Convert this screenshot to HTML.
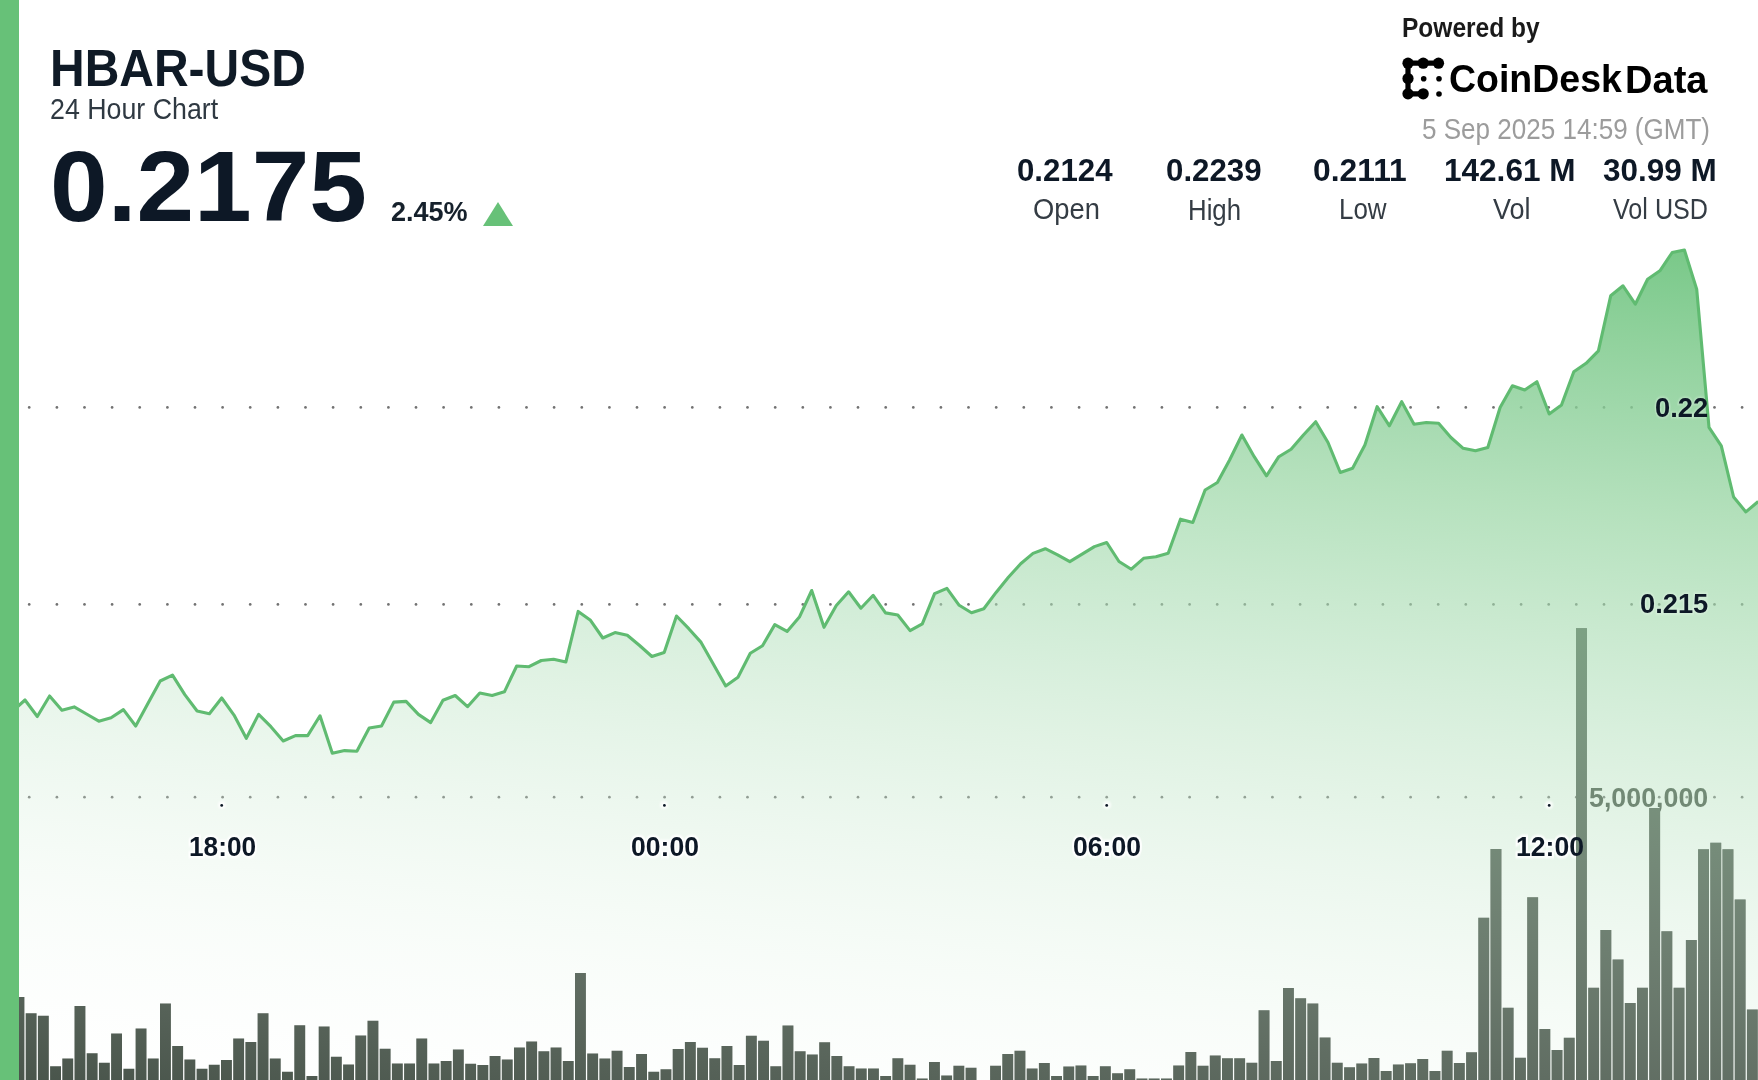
<!DOCTYPE html>
<html><head><meta charset="utf-8"><style>
html,body{margin:0;padding:0;background:#fff;}
body{width:1758px;height:1080px;overflow:hidden;position:relative;font-family:"Liberation Sans",sans-serif;}
.tx{position:absolute;white-space:pre;line-height:1;transform-origin:0 0;}
.halo{color:transparent;-webkit-text-stroke:4.5px rgba(255,255,255,.9);filter:blur(.8px);}
.halo2{color:transparent;-webkit-text-stroke:3px rgba(255,255,255,.25);filter:blur(.8px);}
.tickhalo{position:absolute;width:8px;height:8px;border-radius:4px;background:rgba(255,255,255,.8);filter:blur(1px);}
svg{position:absolute;left:0;top:0;overflow:visible;}
#wrap{position:absolute;left:-10px;top:-10px;width:1778px;height:1100px;background:#fff;filter:blur(0.55px);overflow:hidden;}
#c{position:absolute;left:10px;top:10px;width:1758px;height:1080px;}
#lb{position:absolute;left:-10px;top:-10px;width:28.6px;height:1100px;background:#67c178;}
#tri{position:absolute;left:482.6px;top:201.9px;width:0;height:0;border-left:15.2px solid transparent;border-right:15.2px solid transparent;border-bottom:24.5px solid #67c178;}
</style></head><body>
<div id="wrap"><div id="c">
<svg width="1758" height="1080" viewBox="0 0 1758 1080">
<g fill="#727272"><circle cx="1.6" cy="407.4" r="1.35"/><circle cx="29.2" cy="407.4" r="1.35"/><circle cx="56.9" cy="407.4" r="1.35"/><circle cx="84.5" cy="407.4" r="1.35"/><circle cx="112.1" cy="407.4" r="1.35"/><circle cx="139.7" cy="407.4" r="1.35"/><circle cx="167.4" cy="407.4" r="1.35"/><circle cx="195.0" cy="407.4" r="1.35"/><circle cx="222.6" cy="407.4" r="1.35"/><circle cx="250.2" cy="407.4" r="1.35"/><circle cx="277.9" cy="407.4" r="1.35"/><circle cx="305.5" cy="407.4" r="1.35"/><circle cx="333.1" cy="407.4" r="1.35"/><circle cx="360.8" cy="407.4" r="1.35"/><circle cx="388.4" cy="407.4" r="1.35"/><circle cx="416.0" cy="407.4" r="1.35"/><circle cx="443.6" cy="407.4" r="1.35"/><circle cx="471.3" cy="407.4" r="1.35"/><circle cx="498.9" cy="407.4" r="1.35"/><circle cx="526.5" cy="407.4" r="1.35"/><circle cx="554.1" cy="407.4" r="1.35"/><circle cx="581.8" cy="407.4" r="1.35"/><circle cx="609.4" cy="407.4" r="1.35"/><circle cx="637.0" cy="407.4" r="1.35"/><circle cx="664.6" cy="407.4" r="1.35"/><circle cx="692.3" cy="407.4" r="1.35"/><circle cx="719.9" cy="407.4" r="1.35"/><circle cx="747.5" cy="407.4" r="1.35"/><circle cx="775.2" cy="407.4" r="1.35"/><circle cx="802.8" cy="407.4" r="1.35"/><circle cx="830.4" cy="407.4" r="1.35"/><circle cx="858.0" cy="407.4" r="1.35"/><circle cx="885.7" cy="407.4" r="1.35"/><circle cx="913.3" cy="407.4" r="1.35"/><circle cx="940.9" cy="407.4" r="1.35"/><circle cx="968.5" cy="407.4" r="1.35"/><circle cx="996.2" cy="407.4" r="1.35"/><circle cx="1023.8" cy="407.4" r="1.35"/><circle cx="1051.4" cy="407.4" r="1.35"/><circle cx="1079.1" cy="407.4" r="1.35"/><circle cx="1106.7" cy="407.4" r="1.35"/><circle cx="1134.3" cy="407.4" r="1.35"/><circle cx="1161.9" cy="407.4" r="1.35"/><circle cx="1189.6" cy="407.4" r="1.35"/><circle cx="1217.2" cy="407.4" r="1.35"/><circle cx="1244.8" cy="407.4" r="1.35"/><circle cx="1272.4" cy="407.4" r="1.35"/><circle cx="1300.1" cy="407.4" r="1.35"/><circle cx="1327.7" cy="407.4" r="1.35"/><circle cx="1355.3" cy="407.4" r="1.35"/><circle cx="1382.9" cy="407.4" r="1.35"/><circle cx="1410.6" cy="407.4" r="1.35"/><circle cx="1438.2" cy="407.4" r="1.35"/><circle cx="1465.8" cy="407.4" r="1.35"/><circle cx="1493.5" cy="407.4" r="1.35"/><circle cx="1521.1" cy="407.4" r="1.35"/><circle cx="1548.7" cy="407.4" r="1.35"/><circle cx="1576.3" cy="407.4" r="1.35"/><circle cx="1604.0" cy="407.4" r="1.35"/><circle cx="1631.6" cy="407.4" r="1.35"/><circle cx="1659.2" cy="407.4" r="1.35"/><circle cx="1686.8" cy="407.4" r="1.35"/><circle cx="1714.5" cy="407.4" r="1.35"/><circle cx="1742.1" cy="407.4" r="1.35"/><circle cx="1.6" cy="604.4" r="1.35"/><circle cx="29.2" cy="604.4" r="1.35"/><circle cx="56.9" cy="604.4" r="1.35"/><circle cx="84.5" cy="604.4" r="1.35"/><circle cx="112.1" cy="604.4" r="1.35"/><circle cx="139.7" cy="604.4" r="1.35"/><circle cx="167.4" cy="604.4" r="1.35"/><circle cx="195.0" cy="604.4" r="1.35"/><circle cx="222.6" cy="604.4" r="1.35"/><circle cx="250.2" cy="604.4" r="1.35"/><circle cx="277.9" cy="604.4" r="1.35"/><circle cx="305.5" cy="604.4" r="1.35"/><circle cx="333.1" cy="604.4" r="1.35"/><circle cx="360.8" cy="604.4" r="1.35"/><circle cx="388.4" cy="604.4" r="1.35"/><circle cx="416.0" cy="604.4" r="1.35"/><circle cx="443.6" cy="604.4" r="1.35"/><circle cx="471.3" cy="604.4" r="1.35"/><circle cx="498.9" cy="604.4" r="1.35"/><circle cx="526.5" cy="604.4" r="1.35"/><circle cx="554.1" cy="604.4" r="1.35"/><circle cx="581.8" cy="604.4" r="1.35"/><circle cx="609.4" cy="604.4" r="1.35"/><circle cx="637.0" cy="604.4" r="1.35"/><circle cx="664.6" cy="604.4" r="1.35"/><circle cx="692.3" cy="604.4" r="1.35"/><circle cx="719.9" cy="604.4" r="1.35"/><circle cx="747.5" cy="604.4" r="1.35"/><circle cx="775.2" cy="604.4" r="1.35"/><circle cx="802.8" cy="604.4" r="1.35"/><circle cx="830.4" cy="604.4" r="1.35"/><circle cx="858.0" cy="604.4" r="1.35"/><circle cx="885.7" cy="604.4" r="1.35"/><circle cx="913.3" cy="604.4" r="1.35"/><circle cx="940.9" cy="604.4" r="1.35"/><circle cx="968.5" cy="604.4" r="1.35"/><circle cx="996.2" cy="604.4" r="1.35"/><circle cx="1023.8" cy="604.4" r="1.35"/><circle cx="1051.4" cy="604.4" r="1.35"/><circle cx="1079.1" cy="604.4" r="1.35"/><circle cx="1106.7" cy="604.4" r="1.35"/><circle cx="1134.3" cy="604.4" r="1.35"/><circle cx="1161.9" cy="604.4" r="1.35"/><circle cx="1189.6" cy="604.4" r="1.35"/><circle cx="1217.2" cy="604.4" r="1.35"/><circle cx="1244.8" cy="604.4" r="1.35"/><circle cx="1272.4" cy="604.4" r="1.35"/><circle cx="1300.1" cy="604.4" r="1.35"/><circle cx="1327.7" cy="604.4" r="1.35"/><circle cx="1355.3" cy="604.4" r="1.35"/><circle cx="1382.9" cy="604.4" r="1.35"/><circle cx="1410.6" cy="604.4" r="1.35"/><circle cx="1438.2" cy="604.4" r="1.35"/><circle cx="1465.8" cy="604.4" r="1.35"/><circle cx="1493.5" cy="604.4" r="1.35"/><circle cx="1521.1" cy="604.4" r="1.35"/><circle cx="1548.7" cy="604.4" r="1.35"/><circle cx="1576.3" cy="604.4" r="1.35"/><circle cx="1604.0" cy="604.4" r="1.35"/><circle cx="1631.6" cy="604.4" r="1.35"/><circle cx="1659.2" cy="604.4" r="1.35"/><circle cx="1686.8" cy="604.4" r="1.35"/><circle cx="1714.5" cy="604.4" r="1.35"/><circle cx="1742.1" cy="604.4" r="1.35"/><circle cx="1.6" cy="797.2" r="1.35"/><circle cx="29.2" cy="797.2" r="1.35"/><circle cx="56.9" cy="797.2" r="1.35"/><circle cx="84.5" cy="797.2" r="1.35"/><circle cx="112.1" cy="797.2" r="1.35"/><circle cx="139.7" cy="797.2" r="1.35"/><circle cx="167.4" cy="797.2" r="1.35"/><circle cx="195.0" cy="797.2" r="1.35"/><circle cx="222.6" cy="797.2" r="1.35"/><circle cx="250.2" cy="797.2" r="1.35"/><circle cx="277.9" cy="797.2" r="1.35"/><circle cx="305.5" cy="797.2" r="1.35"/><circle cx="333.1" cy="797.2" r="1.35"/><circle cx="360.8" cy="797.2" r="1.35"/><circle cx="388.4" cy="797.2" r="1.35"/><circle cx="416.0" cy="797.2" r="1.35"/><circle cx="443.6" cy="797.2" r="1.35"/><circle cx="471.3" cy="797.2" r="1.35"/><circle cx="498.9" cy="797.2" r="1.35"/><circle cx="526.5" cy="797.2" r="1.35"/><circle cx="554.1" cy="797.2" r="1.35"/><circle cx="581.8" cy="797.2" r="1.35"/><circle cx="609.4" cy="797.2" r="1.35"/><circle cx="637.0" cy="797.2" r="1.35"/><circle cx="664.6" cy="797.2" r="1.35"/><circle cx="692.3" cy="797.2" r="1.35"/><circle cx="719.9" cy="797.2" r="1.35"/><circle cx="747.5" cy="797.2" r="1.35"/><circle cx="775.2" cy="797.2" r="1.35"/><circle cx="802.8" cy="797.2" r="1.35"/><circle cx="830.4" cy="797.2" r="1.35"/><circle cx="858.0" cy="797.2" r="1.35"/><circle cx="885.7" cy="797.2" r="1.35"/><circle cx="913.3" cy="797.2" r="1.35"/><circle cx="940.9" cy="797.2" r="1.35"/><circle cx="968.5" cy="797.2" r="1.35"/><circle cx="996.2" cy="797.2" r="1.35"/><circle cx="1023.8" cy="797.2" r="1.35"/><circle cx="1051.4" cy="797.2" r="1.35"/><circle cx="1079.1" cy="797.2" r="1.35"/><circle cx="1106.7" cy="797.2" r="1.35"/><circle cx="1134.3" cy="797.2" r="1.35"/><circle cx="1161.9" cy="797.2" r="1.35"/><circle cx="1189.6" cy="797.2" r="1.35"/><circle cx="1217.2" cy="797.2" r="1.35"/><circle cx="1244.8" cy="797.2" r="1.35"/><circle cx="1272.4" cy="797.2" r="1.35"/><circle cx="1300.1" cy="797.2" r="1.35"/><circle cx="1327.7" cy="797.2" r="1.35"/><circle cx="1355.3" cy="797.2" r="1.35"/><circle cx="1382.9" cy="797.2" r="1.35"/><circle cx="1410.6" cy="797.2" r="1.35"/><circle cx="1438.2" cy="797.2" r="1.35"/><circle cx="1465.8" cy="797.2" r="1.35"/><circle cx="1493.5" cy="797.2" r="1.35"/><circle cx="1521.1" cy="797.2" r="1.35"/><circle cx="1548.7" cy="797.2" r="1.35"/><circle cx="1576.3" cy="797.2" r="1.35"/><circle cx="1604.0" cy="797.2" r="1.35"/><circle cx="1631.6" cy="797.2" r="1.35"/><circle cx="1659.2" cy="797.2" r="1.35"/><circle cx="1686.8" cy="797.2" r="1.35"/><circle cx="1714.5" cy="797.2" r="1.35"/><circle cx="1742.1" cy="797.2" r="1.35"/></g>
</svg>
<div class="tx" style="left:1588.80px;top:782.73px;font-size:28.26px;font-weight:bold;transform:scaleX(0.9484);color:#364036">5,000,000</div>
<svg width="1758" height="1080" viewBox="0 0 1758 1080">
<defs><linearGradient id="ag" gradientUnits="userSpaceOnUse" x1="1620" y1="172" x2="1499.2" y2="1291.5"><stop offset="0.000" stop-color="#67c178" stop-opacity="1.000"/><stop offset="0.050" stop-color="#6fc47f" stop-opacity="0.950"/><stop offset="0.100" stop-color="#76c786" stop-opacity="0.900"/><stop offset="0.150" stop-color="#7eca8c" stop-opacity="0.850"/><stop offset="0.200" stop-color="#85cd93" stop-opacity="0.800"/><stop offset="0.250" stop-color="#8dd09a" stop-opacity="0.750"/><stop offset="0.300" stop-color="#95d4a0" stop-opacity="0.700"/><stop offset="0.350" stop-color="#9cd7a7" stop-opacity="0.650"/><stop offset="0.400" stop-color="#a4daae" stop-opacity="0.600"/><stop offset="0.450" stop-color="#abddb5" stop-opacity="0.550"/><stop offset="0.500" stop-color="#b3e0bc" stop-opacity="0.500"/><stop offset="0.550" stop-color="#bbe3c2" stop-opacity="0.450"/><stop offset="0.600" stop-color="#c2e6c9" stop-opacity="0.400"/><stop offset="0.650" stop-color="#cae9d0" stop-opacity="0.350"/><stop offset="0.700" stop-color="#d1ecd6" stop-opacity="0.300"/><stop offset="0.750" stop-color="#d9f0dd" stop-opacity="0.250"/><stop offset="0.800" stop-color="#e1f3e4" stop-opacity="0.200"/><stop offset="0.850" stop-color="#e8f6eb" stop-opacity="0.150"/><stop offset="0.900" stop-color="#f0f9f2" stop-opacity="0.100"/><stop offset="0.950" stop-color="#f7fcf8" stop-opacity="0.050"/><stop offset="1.000" stop-color="#ffffff" stop-opacity="0.000"/></linearGradient><clipPath id="bc"><path d="M13.5,996.9h10.9V1090h-10.9ZM25.7,1013.2h10.9V1090h-10.9ZM37.9,1015.7h10.9V1090h-10.9ZM50.1,1066.2h10.9V1090h-10.9ZM62.3,1058.6h10.9V1090h-10.9ZM74.5,1006.1h10.9V1090h-10.9ZM86.7,1053.2h10.9V1090h-10.9ZM98.9,1062.7h10.9V1090h-10.9ZM111.1,1033.4h10.9V1090h-10.9ZM123.4,1068.8h10.9V1090h-10.9ZM135.6,1028.5h10.9V1090h-10.9ZM147.8,1058.6h10.9V1090h-10.9ZM160.0,1003.4h10.9V1090h-10.9ZM172.2,1046.0h10.9V1090h-10.9ZM184.4,1059.4h10.9V1090h-10.9ZM196.6,1068.8h10.9V1090h-10.9ZM208.8,1064.8h10.9V1090h-10.9ZM221.0,1060.1h10.9V1090h-10.9ZM233.2,1038.5h10.9V1090h-10.9ZM245.4,1041.9h10.9V1090h-10.9ZM257.6,1013.2h10.9V1090h-10.9ZM269.8,1058.6h10.9V1090h-10.9ZM282.0,1071.7h10.9V1090h-10.9ZM294.3,1025.3h10.9V1090h-10.9ZM306.5,1076.0h10.9V1090h-10.9ZM318.7,1026.6h10.9V1090h-10.9ZM330.9,1056.7h10.9V1090h-10.9ZM343.1,1064.4h10.9V1090h-10.9ZM355.3,1035.4h10.9V1090h-10.9ZM367.5,1020.8h10.9V1090h-10.9ZM379.7,1048.7h10.9V1090h-10.9ZM391.9,1063.5h10.9V1090h-10.9ZM404.1,1063.5h10.9V1090h-10.9ZM416.3,1038.5h10.9V1090h-10.9ZM428.5,1063.5h10.9V1090h-10.9ZM440.7,1061.0h10.9V1090h-10.9ZM452.9,1049.4h10.9V1090h-10.9ZM465.2,1063.8h10.9V1090h-10.9ZM477.4,1065.1h10.9V1090h-10.9ZM489.6,1056.0h10.9V1090h-10.9ZM501.8,1059.4h10.9V1090h-10.9ZM514.0,1047.4h10.9V1090h-10.9ZM526.2,1041.5h10.9V1090h-10.9ZM538.4,1051.2h10.9V1090h-10.9ZM550.6,1047.4h10.9V1090h-10.9ZM562.8,1061.0h10.9V1090h-10.9ZM575.0,973.0h10.9V1090h-10.9ZM587.2,1053.5h10.9V1090h-10.9ZM599.4,1058.6h10.9V1090h-10.9ZM611.6,1050.8h10.9V1090h-10.9ZM623.8,1066.9h10.9V1090h-10.9ZM636.1,1053.9h10.9V1090h-10.9ZM648.3,1071.7h10.9V1090h-10.9ZM660.5,1069.2h10.9V1090h-10.9ZM672.7,1049.0h10.9V1090h-10.9ZM684.9,1041.9h10.9V1090h-10.9ZM697.1,1047.8h10.9V1090h-10.9ZM709.3,1058.3h10.9V1090h-10.9ZM721.5,1046.0h10.9V1090h-10.9ZM733.7,1065.1h10.9V1090h-10.9ZM745.9,1035.8h10.9V1090h-10.9ZM758.1,1040.8h10.9V1090h-10.9ZM770.3,1066.2h10.9V1090h-10.9ZM782.5,1025.5h10.9V1090h-10.9ZM794.7,1051.2h10.9V1090h-10.9ZM806.9,1054.5h10.9V1090h-10.9ZM819.2,1042.2h10.9V1090h-10.9ZM831.4,1056.0h10.9V1090h-10.9ZM843.6,1066.2h10.9V1090h-10.9ZM855.8,1068.5h10.9V1090h-10.9ZM868.0,1068.5h10.9V1090h-10.9ZM880.2,1076.0h10.9V1090h-10.9ZM892.4,1058.3h10.9V1090h-10.9ZM904.6,1064.8h10.9V1090h-10.9ZM916.8,1078.5h10.9V1090h-10.9ZM929.0,1062.1h10.9V1090h-10.9ZM941.2,1075.4h10.9V1090h-10.9ZM953.4,1065.8h10.9V1090h-10.9ZM965.6,1067.8h10.9V1090h-10.9ZM990.1,1065.8h10.9V1090h-10.9ZM1002.3,1053.9h10.9V1090h-10.9ZM1014.5,1050.8h10.9V1090h-10.9ZM1026.7,1068.5h10.9V1090h-10.9ZM1038.9,1063.1h10.9V1090h-10.9ZM1051.1,1076.0h10.9V1090h-10.9ZM1063.3,1066.5h10.9V1090h-10.9ZM1075.5,1065.4h10.9V1090h-10.9ZM1087.7,1076.0h10.9V1090h-10.9ZM1099.9,1066.2h10.9V1090h-10.9ZM1112.1,1073.3h10.9V1090h-10.9ZM1124.3,1069.2h10.9V1090h-10.9ZM1136.5,1078.5h10.9V1090h-10.9ZM1148.7,1078.5h10.9V1090h-10.9ZM1161.0,1078.5h10.9V1090h-10.9ZM1173.2,1065.4h10.9V1090h-10.9ZM1185.4,1052.1h10.9V1090h-10.9ZM1197.6,1065.8h10.9V1090h-10.9ZM1209.8,1055.6h10.9V1090h-10.9ZM1222.0,1058.3h10.9V1090h-10.9ZM1234.2,1058.3h10.9V1090h-10.9ZM1246.4,1062.7h10.9V1090h-10.9ZM1258.6,1010.2h10.9V1090h-10.9ZM1270.8,1061.0h10.9V1090h-10.9ZM1283.0,988.0h10.9V1090h-10.9ZM1295.2,998.2h10.9V1090h-10.9ZM1307.4,1003.4h10.9V1090h-10.9ZM1319.6,1037.5h10.9V1090h-10.9ZM1331.8,1062.7h10.9V1090h-10.9ZM1344.1,1067.2h10.9V1090h-10.9ZM1356.3,1063.5h10.9V1090h-10.9ZM1368.5,1058.0h10.9V1090h-10.9ZM1380.7,1071.0h10.9V1090h-10.9ZM1392.9,1064.4h10.9V1090h-10.9ZM1405.1,1063.3h10.9V1090h-10.9ZM1417.3,1058.9h10.9V1090h-10.9ZM1429.5,1071.1h10.9V1090h-10.9ZM1441.7,1050.7h10.9V1090h-10.9ZM1453.9,1062.9h10.9V1090h-10.9ZM1466.1,1052.2h10.9V1090h-10.9ZM1478.3,917.8h10.9V1090h-10.9ZM1490.5,848.9h10.9V1090h-10.9ZM1502.7,1007.8h10.9V1090h-10.9ZM1515.0,1057.8h10.9V1090h-10.9ZM1527.2,897.3h10.9V1090h-10.9ZM1539.4,1028.9h10.9V1090h-10.9ZM1551.6,1050.0h10.9V1090h-10.9ZM1563.8,1037.8h10.9V1090h-10.9ZM1576.0,628.3h10.9V1090h-10.9ZM1588.2,987.7h10.9V1090h-10.9ZM1600.4,929.9h10.9V1090h-10.9ZM1612.6,959.4h10.9V1090h-10.9ZM1624.8,1003.0h10.9V1090h-10.9ZM1637.0,987.7h10.9V1090h-10.9ZM1649.2,808.0h10.9V1090h-10.9ZM1661.4,931.2h10.9V1090h-10.9ZM1673.6,987.7h10.9V1090h-10.9ZM1685.9,939.9h10.9V1090h-10.9ZM1698.1,849.3h10.9V1090h-10.9ZM1710.3,842.8h10.9V1090h-10.9ZM1722.5,849.3h10.9V1090h-10.9ZM1734.7,899.4h10.9V1090h-10.9ZM1746.9,1009.5h10.9V1090h-10.9Z"/></clipPath></defs>
<path d="M12.7,711.0 L25.0,700.0 L37.3,716.5 L49.6,696.0 L61.9,710.3 L74.2,706.9 L86.5,714.0 L98.8,721.2 L111.1,717.8 L123.4,709.6 L135.7,726.0 L147.9,703.5 L160.2,681.0 L172.5,675.2 L184.8,694.6 L197.1,711.0 L209.4,713.7 L221.7,698.0 L234.0,715.1 L246.3,738.3 L258.6,714.4 L270.9,726.7 L283.2,741.0 L295.5,735.6 L307.7,735.6 L320.0,715.8 L332.3,753.3 L344.6,750.6 L356.9,751.3 L369.2,728.0 L381.5,726.0 L393.8,702.1 L406.1,701.4 L418.4,714.4 L430.7,722.6 L443.0,700.3 L455.2,695.5 L467.5,706.7 L479.8,693.0 L492.1,695.5 L504.4,691.8 L516.7,666.0 L529.0,666.7 L541.3,660.5 L553.6,659.2 L565.9,661.9 L578.2,611.4 L590.5,620.3 L602.8,638.0 L615.0,632.6 L627.3,635.3 L639.6,645.5 L651.9,656.5 L664.2,652.5 L676.5,616.0 L688.8,628.7 L701.1,642.4 L713.4,664.2 L725.7,686.0 L738.0,677.2 L750.3,653.3 L762.5,645.8 L774.8,624.6 L787.1,631.4 L799.4,617.1 L811.7,590.5 L824.0,627.3 L836.3,605.5 L848.6,591.8 L860.9,608.2 L873.2,595.3 L885.5,612.9 L897.8,615.0 L910.1,630.6 L922.3,623.8 L934.6,593.7 L946.9,588.3 L959.2,605.3 L971.5,612.8 L983.8,608.7 L996.1,592.4 L1008.4,577.3 L1020.7,563.7 L1033.0,553.4 L1045.3,548.7 L1057.6,554.8 L1069.8,561.6 L1082.1,554.1 L1094.4,546.6 L1106.7,542.5 L1119.0,561.5 L1131.3,569.2 L1143.6,558.3 L1155.9,556.7 L1168.2,553.3 L1180.5,519.2 L1192.8,522.5 L1205.1,490.0 L1217.4,482.5 L1229.6,460.0 L1241.9,435.0 L1254.2,456.7 L1266.5,475.8 L1278.8,456.7 L1291.1,449.2 L1303.4,435.0 L1315.7,421.7 L1328.0,442.5 L1340.3,472.5 L1352.6,468.3 L1364.9,445.0 L1377.1,406.7 L1389.4,425.8 L1401.7,401.7 L1414.0,424.2 L1426.3,422.5 L1438.6,423.3 L1450.9,437.5 L1463.2,448.3 L1475.5,450.8 L1487.8,447.5 L1500.1,407.5 L1512.4,385.8 L1524.7,390.0 L1536.9,381.7 L1549.2,414.0 L1561.5,405.0 L1573.8,371.7 L1586.1,363.3 L1598.4,350.8 L1610.7,295.8 L1623.0,285.8 L1635.3,304.2 L1647.6,279.2 L1659.9,270.8 L1672.2,252.5 L1684.4,250.0 L1696.7,289.2 L1709.0,427.4 L1721.3,445.9 L1733.6,497.0 L1745.9,511.9 L1758.2,501.5 L1758.2,1090 L12.7,1090 Z" fill="url(#ag)"/>
</svg>
<div class="tx halo2" style="left:1654.56px;top:393.73px;font-size:27.46px;font-weight:bold;transform:scaleX(0.9950)">0.22</div><div class="tx halo2" style="left:1640.01px;top:588.93px;font-size:28.45px;font-weight:bold;transform:scaleX(0.9594)">0.215</div><div class="tx halo" style="left:189.32px;top:833.22px;font-size:27.89px;font-weight:bold;transform:scaleX(0.9417)">18:00</div><div class="tx halo" style="left:631.29px;top:832.07px;font-size:28.17px;font-weight:bold;transform:scaleX(0.9433)">00:00</div><div class="tx halo" style="left:1073.49px;top:832.07px;font-size:28.17px;font-weight:bold;transform:scaleX(0.9433)">06:00</div><div class="tx halo" style="left:1515.65px;top:832.07px;font-size:28.17px;font-weight:bold;transform:scaleX(0.9452)">12:00</div>
<div class="tickhalo" style="left:217.7px;top:801.4px"></div><div class="tickhalo" style="left:660.4px;top:801.4px"></div><div class="tickhalo" style="left:1102.7px;top:801.4px"></div><div class="tickhalo" style="left:1545.2px;top:801.4px"></div>
<svg width="1758" height="1080" viewBox="0 0 1758 1080">
<path d="M13.5,996.9h10.9V1090h-10.9ZM25.7,1013.2h10.9V1090h-10.9ZM37.9,1015.7h10.9V1090h-10.9ZM50.1,1066.2h10.9V1090h-10.9ZM62.3,1058.6h10.9V1090h-10.9ZM74.5,1006.1h10.9V1090h-10.9ZM86.7,1053.2h10.9V1090h-10.9ZM98.9,1062.7h10.9V1090h-10.9ZM111.1,1033.4h10.9V1090h-10.9ZM123.4,1068.8h10.9V1090h-10.9ZM135.6,1028.5h10.9V1090h-10.9ZM147.8,1058.6h10.9V1090h-10.9ZM160.0,1003.4h10.9V1090h-10.9ZM172.2,1046.0h10.9V1090h-10.9ZM184.4,1059.4h10.9V1090h-10.9ZM196.6,1068.8h10.9V1090h-10.9ZM208.8,1064.8h10.9V1090h-10.9ZM221.0,1060.1h10.9V1090h-10.9ZM233.2,1038.5h10.9V1090h-10.9ZM245.4,1041.9h10.9V1090h-10.9ZM257.6,1013.2h10.9V1090h-10.9ZM269.8,1058.6h10.9V1090h-10.9ZM282.0,1071.7h10.9V1090h-10.9ZM294.3,1025.3h10.9V1090h-10.9ZM306.5,1076.0h10.9V1090h-10.9ZM318.7,1026.6h10.9V1090h-10.9ZM330.9,1056.7h10.9V1090h-10.9ZM343.1,1064.4h10.9V1090h-10.9ZM355.3,1035.4h10.9V1090h-10.9ZM367.5,1020.8h10.9V1090h-10.9ZM379.7,1048.7h10.9V1090h-10.9ZM391.9,1063.5h10.9V1090h-10.9ZM404.1,1063.5h10.9V1090h-10.9ZM416.3,1038.5h10.9V1090h-10.9ZM428.5,1063.5h10.9V1090h-10.9ZM440.7,1061.0h10.9V1090h-10.9ZM452.9,1049.4h10.9V1090h-10.9ZM465.2,1063.8h10.9V1090h-10.9ZM477.4,1065.1h10.9V1090h-10.9ZM489.6,1056.0h10.9V1090h-10.9ZM501.8,1059.4h10.9V1090h-10.9ZM514.0,1047.4h10.9V1090h-10.9ZM526.2,1041.5h10.9V1090h-10.9ZM538.4,1051.2h10.9V1090h-10.9ZM550.6,1047.4h10.9V1090h-10.9ZM562.8,1061.0h10.9V1090h-10.9ZM575.0,973.0h10.9V1090h-10.9ZM587.2,1053.5h10.9V1090h-10.9ZM599.4,1058.6h10.9V1090h-10.9ZM611.6,1050.8h10.9V1090h-10.9ZM623.8,1066.9h10.9V1090h-10.9ZM636.1,1053.9h10.9V1090h-10.9ZM648.3,1071.7h10.9V1090h-10.9ZM660.5,1069.2h10.9V1090h-10.9ZM672.7,1049.0h10.9V1090h-10.9ZM684.9,1041.9h10.9V1090h-10.9ZM697.1,1047.8h10.9V1090h-10.9ZM709.3,1058.3h10.9V1090h-10.9ZM721.5,1046.0h10.9V1090h-10.9ZM733.7,1065.1h10.9V1090h-10.9ZM745.9,1035.8h10.9V1090h-10.9ZM758.1,1040.8h10.9V1090h-10.9ZM770.3,1066.2h10.9V1090h-10.9ZM782.5,1025.5h10.9V1090h-10.9ZM794.7,1051.2h10.9V1090h-10.9ZM806.9,1054.5h10.9V1090h-10.9ZM819.2,1042.2h10.9V1090h-10.9ZM831.4,1056.0h10.9V1090h-10.9ZM843.6,1066.2h10.9V1090h-10.9ZM855.8,1068.5h10.9V1090h-10.9ZM868.0,1068.5h10.9V1090h-10.9ZM880.2,1076.0h10.9V1090h-10.9ZM892.4,1058.3h10.9V1090h-10.9ZM904.6,1064.8h10.9V1090h-10.9ZM916.8,1078.5h10.9V1090h-10.9ZM929.0,1062.1h10.9V1090h-10.9ZM941.2,1075.4h10.9V1090h-10.9ZM953.4,1065.8h10.9V1090h-10.9ZM965.6,1067.8h10.9V1090h-10.9ZM990.1,1065.8h10.9V1090h-10.9ZM1002.3,1053.9h10.9V1090h-10.9ZM1014.5,1050.8h10.9V1090h-10.9ZM1026.7,1068.5h10.9V1090h-10.9ZM1038.9,1063.1h10.9V1090h-10.9ZM1051.1,1076.0h10.9V1090h-10.9ZM1063.3,1066.5h10.9V1090h-10.9ZM1075.5,1065.4h10.9V1090h-10.9ZM1087.7,1076.0h10.9V1090h-10.9ZM1099.9,1066.2h10.9V1090h-10.9ZM1112.1,1073.3h10.9V1090h-10.9ZM1124.3,1069.2h10.9V1090h-10.9ZM1136.5,1078.5h10.9V1090h-10.9ZM1148.7,1078.5h10.9V1090h-10.9ZM1161.0,1078.5h10.9V1090h-10.9ZM1173.2,1065.4h10.9V1090h-10.9ZM1185.4,1052.1h10.9V1090h-10.9ZM1197.6,1065.8h10.9V1090h-10.9ZM1209.8,1055.6h10.9V1090h-10.9ZM1222.0,1058.3h10.9V1090h-10.9ZM1234.2,1058.3h10.9V1090h-10.9ZM1246.4,1062.7h10.9V1090h-10.9ZM1258.6,1010.2h10.9V1090h-10.9ZM1270.8,1061.0h10.9V1090h-10.9ZM1283.0,988.0h10.9V1090h-10.9ZM1295.2,998.2h10.9V1090h-10.9ZM1307.4,1003.4h10.9V1090h-10.9ZM1319.6,1037.5h10.9V1090h-10.9ZM1331.8,1062.7h10.9V1090h-10.9ZM1344.1,1067.2h10.9V1090h-10.9ZM1356.3,1063.5h10.9V1090h-10.9ZM1368.5,1058.0h10.9V1090h-10.9ZM1380.7,1071.0h10.9V1090h-10.9ZM1392.9,1064.4h10.9V1090h-10.9ZM1405.1,1063.3h10.9V1090h-10.9ZM1417.3,1058.9h10.9V1090h-10.9ZM1429.5,1071.1h10.9V1090h-10.9ZM1441.7,1050.7h10.9V1090h-10.9ZM1453.9,1062.9h10.9V1090h-10.9ZM1466.1,1052.2h10.9V1090h-10.9ZM1478.3,917.8h10.9V1090h-10.9ZM1490.5,848.9h10.9V1090h-10.9ZM1502.7,1007.8h10.9V1090h-10.9ZM1515.0,1057.8h10.9V1090h-10.9ZM1527.2,897.3h10.9V1090h-10.9ZM1539.4,1028.9h10.9V1090h-10.9ZM1551.6,1050.0h10.9V1090h-10.9ZM1563.8,1037.8h10.9V1090h-10.9ZM1576.0,628.3h10.9V1090h-10.9ZM1588.2,987.7h10.9V1090h-10.9ZM1600.4,929.9h10.9V1090h-10.9ZM1612.6,959.4h10.9V1090h-10.9ZM1624.8,1003.0h10.9V1090h-10.9ZM1637.0,987.7h10.9V1090h-10.9ZM1649.2,808.0h10.9V1090h-10.9ZM1661.4,931.2h10.9V1090h-10.9ZM1673.6,987.7h10.9V1090h-10.9ZM1685.9,939.9h10.9V1090h-10.9ZM1698.1,849.3h10.9V1090h-10.9ZM1710.3,842.8h10.9V1090h-10.9ZM1722.5,849.3h10.9V1090h-10.9ZM1734.7,899.4h10.9V1090h-10.9ZM1746.9,1009.5h10.9V1090h-10.9Z" fill="#414d43"/>
<rect x="0" y="500" width="1758" height="590" fill="url(#ag)" clip-path="url(#bc)"/>
<path d="M12.7,711.0 L25.0,700.0 L37.3,716.5 L49.6,696.0 L61.9,710.3 L74.2,706.9 L86.5,714.0 L98.8,721.2 L111.1,717.8 L123.4,709.6 L135.7,726.0 L147.9,703.5 L160.2,681.0 L172.5,675.2 L184.8,694.6 L197.1,711.0 L209.4,713.7 L221.7,698.0 L234.0,715.1 L246.3,738.3 L258.6,714.4 L270.9,726.7 L283.2,741.0 L295.5,735.6 L307.7,735.6 L320.0,715.8 L332.3,753.3 L344.6,750.6 L356.9,751.3 L369.2,728.0 L381.5,726.0 L393.8,702.1 L406.1,701.4 L418.4,714.4 L430.7,722.6 L443.0,700.3 L455.2,695.5 L467.5,706.7 L479.8,693.0 L492.1,695.5 L504.4,691.8 L516.7,666.0 L529.0,666.7 L541.3,660.5 L553.6,659.2 L565.9,661.9 L578.2,611.4 L590.5,620.3 L602.8,638.0 L615.0,632.6 L627.3,635.3 L639.6,645.5 L651.9,656.5 L664.2,652.5 L676.5,616.0 L688.8,628.7 L701.1,642.4 L713.4,664.2 L725.7,686.0 L738.0,677.2 L750.3,653.3 L762.5,645.8 L774.8,624.6 L787.1,631.4 L799.4,617.1 L811.7,590.5 L824.0,627.3 L836.3,605.5 L848.6,591.8 L860.9,608.2 L873.2,595.3 L885.5,612.9 L897.8,615.0 L910.1,630.6 L922.3,623.8 L934.6,593.7 L946.9,588.3 L959.2,605.3 L971.5,612.8 L983.8,608.7 L996.1,592.4 L1008.4,577.3 L1020.7,563.7 L1033.0,553.4 L1045.3,548.7 L1057.6,554.8 L1069.8,561.6 L1082.1,554.1 L1094.4,546.6 L1106.7,542.5 L1119.0,561.5 L1131.3,569.2 L1143.6,558.3 L1155.9,556.7 L1168.2,553.3 L1180.5,519.2 L1192.8,522.5 L1205.1,490.0 L1217.4,482.5 L1229.6,460.0 L1241.9,435.0 L1254.2,456.7 L1266.5,475.8 L1278.8,456.7 L1291.1,449.2 L1303.4,435.0 L1315.7,421.7 L1328.0,442.5 L1340.3,472.5 L1352.6,468.3 L1364.9,445.0 L1377.1,406.7 L1389.4,425.8 L1401.7,401.7 L1414.0,424.2 L1426.3,422.5 L1438.6,423.3 L1450.9,437.5 L1463.2,448.3 L1475.5,450.8 L1487.8,447.5 L1500.1,407.5 L1512.4,385.8 L1524.7,390.0 L1536.9,381.7 L1549.2,414.0 L1561.5,405.0 L1573.8,371.7 L1586.1,363.3 L1598.4,350.8 L1610.7,295.8 L1623.0,285.8 L1635.3,304.2 L1647.6,279.2 L1659.9,270.8 L1672.2,252.5 L1684.4,250.0 L1696.7,289.2 L1709.0,427.4 L1721.3,445.9 L1733.6,497.0 L1745.9,511.9 L1758.2,501.5" fill="none" stroke="#60bb71" stroke-width="3.1" stroke-linejoin="round"/>
<g fill="#0d1826"><circle cx="221.7" cy="805.4" r="1.4"/><circle cx="664.4" cy="805.4" r="1.4"/><circle cx="1106.7" cy="805.4" r="1.4"/><circle cx="1549.2" cy="805.4" r="1.4"/></g>
</svg>
<div class="tx" style="left:50.34px;top:43.40px;font-size:51.88px;font-weight:bold;transform:scaleX(0.9245);color:#0f1a26">HBAR-USD</div><div class="tx" style="left:49.61px;top:93.75px;font-size:30.00px;font-weight:normal;transform:scaleX(0.8923);color:#2f3942">24 Hour Chart</div><div class="tx" style="left:49.60px;top:135.63px;font-size:100.14px;font-weight:bold;transform:scaleX(1.0350);color:#0d1826">0.2175</div><div class="tx" style="left:391.49px;top:197.73px;font-size:27.46px;font-weight:bold;transform:scaleX(0.9849);color:#16212c">2.45%</div><div class="tx" style="left:1401.93px;top:13.33px;font-size:28.26px;font-weight:bold;transform:scaleX(0.8680);color:#1a1a1a">Powered by</div><div class="tx" style="left:1448.85px;top:60.30px;font-size:38.78px;font-weight:bold;transform:scaleX(0.9665);color:#000000">CoinDesk</div><div class="tx" style="left:1625.29px;top:59.79px;font-size:39.43px;font-weight:bold;transform:scaleX(0.9650);color:#000000">Data</div><div class="tx" style="left:1422.16px;top:114.56px;font-size:28.99px;font-weight:normal;transform:scaleX(0.8984);color:#9c9c9c">5 Sep 2025 14:59 (GMT)</div><div class="tx" style="left:1017.25px;top:155.72px;font-size:30.85px;font-weight:bold;transform:scaleX(1.0125);color:#0d1826">0.2124</div><div class="tx" style="left:1165.70px;top:155.72px;font-size:30.85px;font-weight:bold;transform:scaleX(1.0129);color:#0d1826">0.2239</div><div class="tx" style="left:1313.13px;top:155.72px;font-size:30.85px;font-weight:bold;transform:scaleX(1.0311);color:#0d1826">0.2111</div><div class="tx" style="left:1444.31px;top:155.72px;font-size:30.85px;font-weight:bold;transform:scaleX(1.0224);color:#0d1826">142.61 M</div><div class="tx" style="left:1602.62px;top:155.24px;font-size:31.41px;font-weight:bold;transform:scaleX(1.0021);color:#0d1826">30.99 M</div><div class="tx" style="left:1032.88px;top:195.14px;font-size:28.84px;font-weight:normal;transform:scaleX(0.9479);color:#343c44">Open</div><div class="tx" style="left:1187.79px;top:196.29px;font-size:28.84px;font-weight:normal;transform:scaleX(0.8950);color:#343c44">High</div><div class="tx" style="left:1338.97px;top:195.09px;font-size:28.84px;font-weight:normal;transform:scaleX(0.9003);color:#343c44">Low</div><div class="tx" style="left:1492.83px;top:195.09px;font-size:28.84px;font-weight:normal;transform:scaleX(0.9370);color:#343c44">Vol</div><div class="tx" style="left:1612.70px;top:194.51px;font-size:28.70px;font-weight:normal;transform:scaleX(0.8759);color:#343c44">Vol USD</div><div class="tx" style="left:1654.56px;top:393.73px;font-size:27.46px;font-weight:bold;transform:scaleX(0.9950);color:#0d1826">0.22</div><div class="tx" style="left:1640.01px;top:588.93px;font-size:28.45px;font-weight:bold;transform:scaleX(0.9594);color:#0d1826">0.215</div><div class="tx" style="left:189.32px;top:833.22px;font-size:27.89px;font-weight:bold;transform:scaleX(0.9417);color:#0d1826">18:00</div><div class="tx" style="left:631.29px;top:832.07px;font-size:28.17px;font-weight:bold;transform:scaleX(0.9433);color:#0d1826">00:00</div><div class="tx" style="left:1073.49px;top:832.07px;font-size:28.17px;font-weight:bold;transform:scaleX(0.9433);color:#0d1826">06:00</div><div class="tx" style="left:1515.65px;top:832.07px;font-size:28.17px;font-weight:bold;transform:scaleX(0.9452);color:#0d1826">12:00</div>
<div id="tri"></div>
<div id="lb"></div>
<svg width="1758" height="1080" viewBox="0 0 1758 1080">
<g fill="#000">
<path d="M1408,63.2 L1438.5,63.2 M1408,63.2 L1408,93.8 L1423.2,93.8" stroke="#000" stroke-width="5.2" fill="none"/>
<circle cx="1408" cy="63.2" r="5.6"/><circle cx="1423.2" cy="63.2" r="5.6"/><circle cx="1438.5" cy="63.2" r="5.6"/>
<circle cx="1408" cy="78.5" r="5.6"/><circle cx="1423.7" cy="78.8" r="2.8"/><circle cx="1439" cy="78.8" r="2.8"/>
<circle cx="1408" cy="93.8" r="5.6"/><circle cx="1423.2" cy="93.8" r="5.6"/><circle cx="1439" cy="94" r="2.8"/>
</g>
</svg>
</div></div>
</body></html>
